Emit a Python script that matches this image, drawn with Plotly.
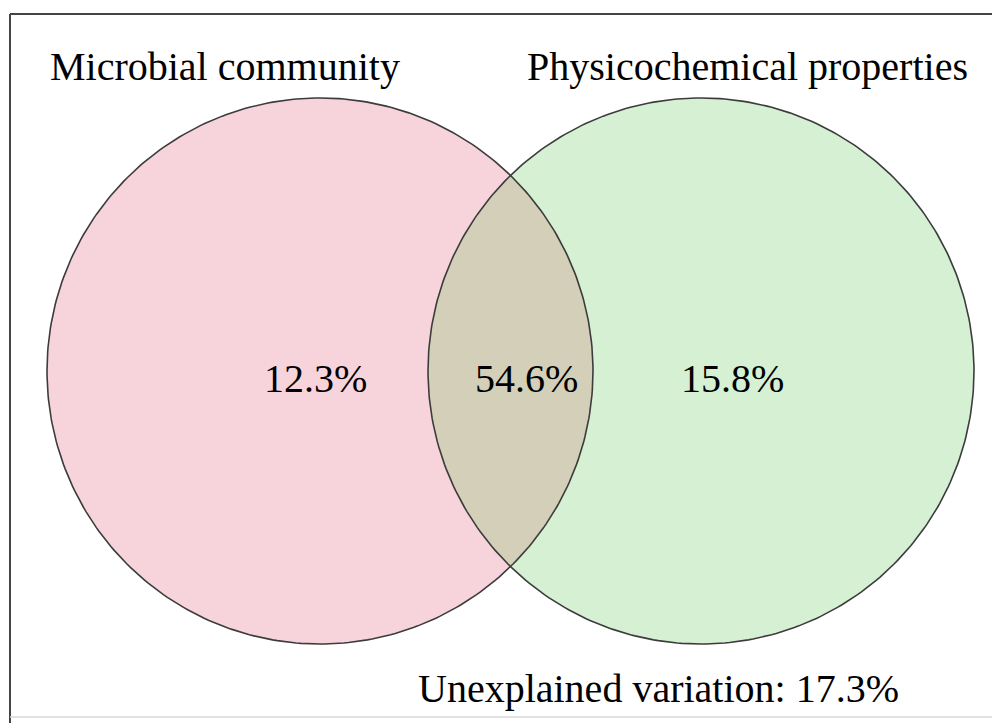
import numpy as np
import plotly.graph_objects as go

# ─── Données ──────────────────────────────────────────────────────────────
set_names = ["Microbial community", "Physicochemical properties"]
unique_pct = [12.3, 15.8]        # part propre à chaque ensemble
shared_pct = 54.6                # intersection
unexplained_pct = 17.3           # variation non expliquée

# ─── Géométrie (coordonnées pixel de la page, y vers le bas) ──────────────
W, H = 1000, 723
OFF = 8                          # marge par défaut du <body>
centers_x = [320, 701]
center_y = 371
radius = 273
fill_colors = ["#F7D4DB", "#D6F0D4"]
lens_color = "#D3CFB8"
edge_color = "#3c3c3c"
FONT = dict(family="Liberation Serif", size=40, color="black")

fig = go.Figure()

# disques
theta = np.linspace(0, 2 * np.pi, 361)
for cx, col in zip(centers_x, fill_colors):
    fig.add_trace(go.Scatter(
        x=cx + radius * np.cos(theta), y=center_y + radius * np.sin(theta),
        mode="lines", fill="toself", fillcolor=col,
        line=dict(width=0), hoverinfo="skip", showlegend=False,
    ))

# lentille d'intersection (arcs des deux cercles)
d = centers_x[1] - centers_x[0]
half = np.arccos((d / 2) / radius)
a_left = np.linspace(-half, half, 120)                 # arc du cercle gauche
a_right = np.linspace(np.pi - half, np.pi + half, 120)  # arc du cercle droit
lens_x = np.concatenate([centers_x[0] + radius * np.cos(a_left),
                         centers_x[1] + radius * np.cos(a_right)])
lens_y = np.concatenate([center_y + radius * np.sin(a_left),
                         center_y + radius * np.sin(a_right)])
fig.add_trace(go.Scatter(
    x=lens_x, y=lens_y, mode="lines", fill="toself", fillcolor=lens_color,
    line=dict(width=0), hoverinfo="skip", showlegend=False,
))

# contours
for cx in centers_x:
    fig.add_trace(go.Scatter(
        x=cx + radius * np.cos(theta), y=center_y + radius * np.sin(theta),
        mode="lines", line=dict(color=edge_color, width=1.6),
        hoverinfo="skip", showlegend=False,
    ))

# ─── Textes ───────────────────────────────────────────────────────────────
annotations = [
    dict(x=225, y=66, text=set_names[0]),
    dict(x=747, y=66, text=set_names[1]),
    dict(x=315, y=378, text=f"{unique_pct[0]}%"),
    dict(x=526, y=378, text=f"{shared_pct}%"),
    dict(x=732, y=378, text=f"{unique_pct[1]}%"),
    dict(x=658, y=688, text=f"Unexplained variation: {unexplained_pct}%"),
]
for a in annotations:
    a.update(xref="x", yref="y", showarrow=False, font=FONT,
             xanchor="center", yanchor="middle")

# cadre
shapes = [
    dict(type="line", x0=10, y0=14, x1=995, y1=14, line=dict(color="#444", width=2)),
    dict(type="line", x0=10, y0=14, x1=10, y1=723, line=dict(color="#444", width=2)),
    dict(type="line", x0=995, y0=14, x1=995, y1=717, line=dict(color="#aaa", width=1.5)),
    dict(type="line", x0=10, y0=717, x1=995, y1=717, line=dict(color="#d8d8d8", width=1.5)),
]

fig.update_layout(
    width=W, height=H,
    margin=dict(l=0, r=0, t=0, b=0),
    paper_bgcolor="white", plot_bgcolor="white",
    xaxis=dict(range=[OFF, W + OFF], visible=False, fixedrange=True),
    yaxis=dict(range=[H + OFF, OFF], visible=False, fixedrange=True),
    annotations=annotations, shapes=shapes,
    showlegend=False,
)

fig.write_html("out.html")
